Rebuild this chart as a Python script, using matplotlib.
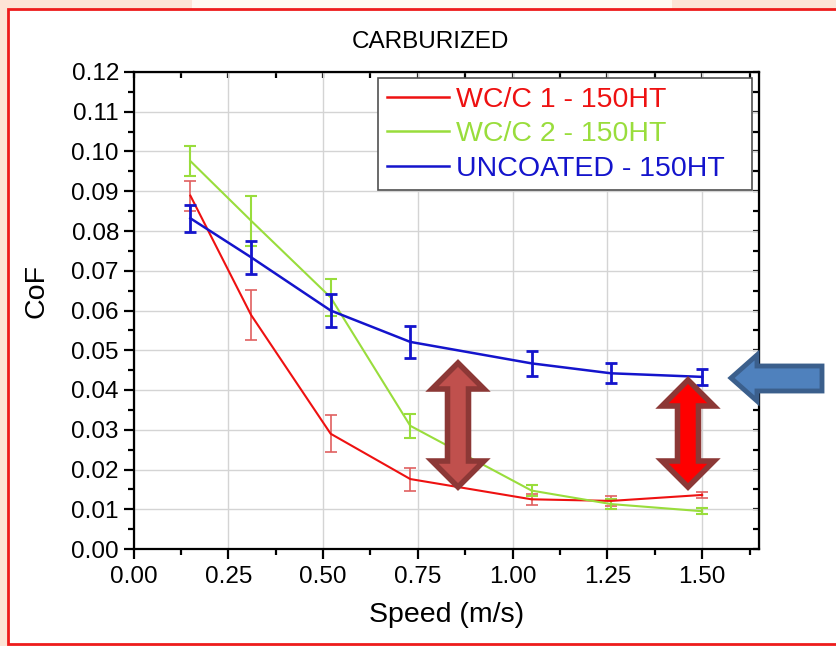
import matplotlib
matplotlib.use("Agg")
import matplotlib.pyplot as plt
from matplotlib.patches import Rectangle, Polygon
from matplotlib.lines import Line2D
from matplotlib.ticker import MultipleLocator
import matplotlib.transforms as mtransforms

plt.rcParams['font.family'] = ['Liberation Sans', 'DejaVu Sans']

# ---- data ----
speed = [0.15, 0.31, 0.52, 0.73, 1.05, 1.26, 1.50]
wcc1 = [0.0889, 0.0589, 0.0290, 0.0176, 0.0125, 0.0121, 0.0136]
wcc1_err = [0.0038, 0.0062, 0.0047, 0.0029, 0.0014, 0.0012, 0.0007]
wcc2 = [0.0976, 0.0826, 0.0633, 0.0310, 0.0147, 0.0113, 0.0095]
wcc2_err = [0.0038, 0.0063, 0.0047, 0.0030, 0.0013, 0.0012, 0.0007]
uncoated = [0.0832, 0.0734, 0.0600, 0.0521, 0.0467, 0.0442, 0.0433]
uncoated_err = [0.0034, 0.0041, 0.0042, 0.0041, 0.0031, 0.0025, 0.0021]
labels = ["WC/C 1 - 150HT", "WC/C 2 - 150HT", "UNCOATED - 150HT"]
xticks = [0.00, 0.25, 0.50, 0.75, 1.00, 1.25, 1.50]
yticks = [0.00, 0.01, 0.02, 0.03, 0.04, 0.05, 0.06, 0.07, 0.08, 0.09, 0.10, 0.11, 0.12]

W, H = 837, 646
fig = plt.figure(figsize=(W / 100, H / 100), dpi=100)
fig.patch.set_facecolor('#fde4d6')

# pixel transform (origin top-left)
px = mtransforms.Affine2D().scale(1 / W, -1 / H).translate(0, 1) + fig.transFigure

# background decorations
fig.patches.append(Rectangle((192, 0), 480, 9, transform=px, facecolor='#fff9f0',
                             edgecolor='none', zorder=0))
fig.patches.append(Rectangle((8, 9), 850, 635, transform=px, facecolor='white',
                             edgecolor='#ee1c1c', linewidth=2, zorder=1))

ax = fig.add_axes([133.5 / W, 1 - 549 / H, (759 - 133.5) / W, (549 - 72) / H])
ax.set_zorder(2)
ax.set_facecolor('white')

red, green, blue = '#ee1111', '#99dd3c', '#1414cc'
ax.errorbar(speed, wcc1, yerr=wcc1_err, color=red, lw=1.5, ecolor='#e06060',
            elinewidth=1.2, capsize=4, capthick=1.2, zorder=3)
ax.errorbar(speed, wcc2, yerr=wcc2_err, color=green, lw=1.5, ecolor=green,
            elinewidth=1.5, capsize=4, capthick=1.5, zorder=3)
ax.errorbar(speed, uncoated, yerr=uncoated_err, color=blue, lw=1.8, ecolor=blue,
            elinewidth=2, capsize=4, capthick=2, zorder=4)

ax.set_xlim(0, 1.65)
ax.set_ylim(0, 0.12)
ax.set_xticks(xticks)
ax.set_xticklabels([f"{v:.2f}" for v in xticks])
ax.set_yticks(yticks)
ax.set_yticklabels([f"{v:.2f}" for v in yticks])
ax.xaxis.set_minor_locator(MultipleLocator(0.125))
ax.yaxis.set_minor_locator(MultipleLocator(0.005))
ax.grid(True, which='major', color='#d4d4d4', lw=1)
ax.set_axisbelow(True)
for s in ax.spines.values():
    s.set_linewidth(1.6)
ax.tick_params(which='both', direction='out', top=False, right=False,
               labelsize=17.5, width=1.6)
ax.tick_params(which='major', length=7.5)
ax.tick_params(which='minor', length=4)
ax.tick_params(axis='x', pad=5)
ax.tick_params(axis='y', pad=3)

secx = ax.secondary_xaxis('top')
secx.set_xticks(xticks)
secx.xaxis.set_minor_locator(MultipleLocator(0.125))
secx.tick_params(which='both', direction='in', length=4, width=1.6, labeltop=False)
secy = ax.secondary_yaxis('right')
secy.set_yticks(yticks)
secy.yaxis.set_minor_locator(MultipleLocator(0.005))
secy.tick_params(which='both', direction='in', length=4, width=1.6, labelright=False)

ax.set_title("CARBURIZED", fontsize=17.5, pad=17, x=0.474)
ax.set_xlabel("Speed (m/s)", fontsize=20.5, labelpad=10)
ax.set_ylabel("CoF", fontsize=20.5)
ax.yaxis.set_label_coords(-0.134, 0.541)

handles = [Line2D([], [], color=c, lw=1.8) for c in (red, green, blue)]
x0 = (378 - 133.5) / 625.5
wl = (752 - 378) / 625.5
leg = ax.legend(handles, labels, loc='upper left', bbox_to_anchor=(x0, 0.9874 - 0.3, wl, 0.3),
                mode='expand', borderaxespad=0, fontsize=20.5, handlelength=2.2,
                handletextpad=0.25, labelspacing=0.3, borderpad=0.3, fancybox=False,
                framealpha=1, edgecolor='#505050')
leg.get_frame().set_linewidth(1.2)
for t, c in zip(leg.get_texts(), (red, green, blue)):
    t.set_color(c)
leg.set_zorder(6)


def double_arrow(cx, yt, yb, hw, sw, hl):
    return [(cx, yt), (cx + hw, yt + hl), (cx + sw, yt + hl), (cx + sw, yb - hl),
            (cx + hw, yb - hl), (cx, yb), (cx - hw, yb - hl), (cx - sw, yb - hl),
            (cx - sw, yt + hl), (cx - hw, yt + hl)]


fig.patches.append(Polygon(double_arrow(458, 363, 487, 26, 10.5, 26), closed=True,
                           transform=px, facecolor='#c0504d', edgecolor='#8c3836',
                           linewidth=4, joinstyle='miter', zorder=10))
fig.patches.append(Polygon(double_arrow(688, 380, 487, 26, 10.5, 26), closed=True,
                           transform=px, facecolor='#ff0000', edgecolor='#8c3836',
                           linewidth=4, joinstyle='miter', zorder=10))
fig.patches.append(Polygon([(731, 378), (757, 355), (757, 366), (822, 366), (822, 391),
                            (757, 391), (757, 401)], closed=True, transform=px,
                           facecolor='#4f81bd', edgecolor='#3b5f8c', linewidth=3.5,
                           joinstyle='miter', zorder=10))

fig.savefig("out.png", dpi=100, facecolor=fig.get_facecolor())
